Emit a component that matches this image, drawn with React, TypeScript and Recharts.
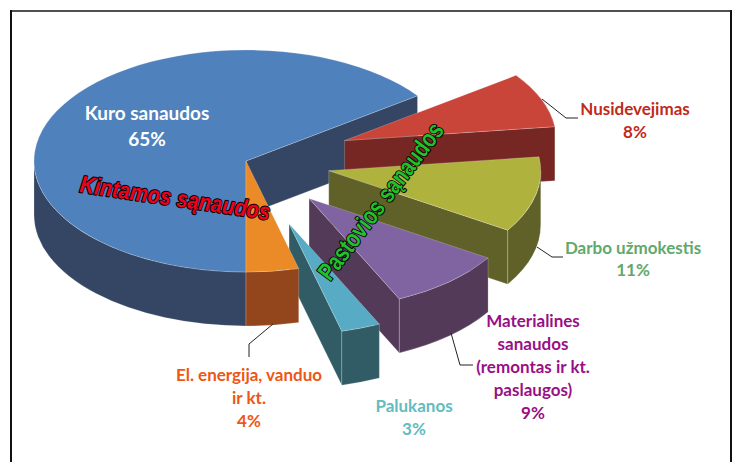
import { Cell, Pie, PieChart } from "recharts";

const names = ["Kuro sanaudos", "Nusidevejimas", "Darbo užmokestis", "Materialines sanaudos", "Palukanos", "El. energija"];
const shares = [65, 8, 11, 9, 3, 4];
const labelLines = [
  ["Kuro sanaudos", "65%"],
  ["Nusidevejimas", "8%"],
  ["Darbo užmokestis", "11%"],
  ["Materialines", "sanaudos", "(remontas ir kt.", "paslaugos)", "9%"],
  ["Palukanos", "3%"],
  ["El. energija, vanduo", "ir kt.", "4%"],
];

const topColors = ["#4f81bd", "#c9453a", "#afb33e", "#8064a2", "#58abc4", "#ea8b28"];
const sideColors = ["#344663", "#772723", "#5f6128", "#533a58", "#315c66", "#93461c"];
const labelColors = ["#ffffff", "#bf2a20", "#62a86b", "#990f86", "#62bcc0", "#ee5614"];
const explode = [0, 0.5, 0.4, 0.45, 0.6, 0];

// label centre x, first line y, line step, font size, leader line
const labelLayout = [
  { x: 147, y: 112, step: 26, size: 19, leader: "" },
  { x: 635, y: 108, step: 23, size: 17, leader: "M542 99L566 118H578" },
  { x: 633, y: 247, step: 22.5, size: 17, leader: "M537 247L552 257H563" },
  { x: 533, y: 320, step: 23, size: 17, leader: "M451 333L460 365H473" },
  { x: 414, y: 405, step: 23, size: 17, leader: "" },
  { x: 249, y: 374, step: 23, size: 17, leader: "M273 324L249 344V357" },
];

const SQUASH = 111 / 212;
const DEPTH = 54;
const rad = (a: number) => (a * Math.PI) / 180;

function Slice3D(props: any) {
  const { cx, cy, outerRadius, startAngle, endAngle, index } = props;
  const low = Math.min(startAngle, endAngle);
  const high = Math.max(startAngle, endAngle);
  const rx = outerRadius;
  const ry = outerRadius * SQUASH;
  const mid = rad((low + high) / 2);
  const ax = cx + explode[index] * rx * Math.cos(mid);
  const ay = cy - explode[index] * ry * Math.sin(mid);
  const pt = (a: number, dy = 0) => [ax + rx * Math.cos(rad(a)), ay - ry * Math.sin(rad(a)) + dy];
  const top = topColors[index];
  const side = sideColors[index];

  const walls: string[] = [];
  // radial cut faces, only the ones turned towards the viewer
  const wall = (a: number) => {
    const [x, y] = pt(a);
    walls.push(`M${ax} ${ay}L${x} ${y}V${y + DEPTH}L${ax} ${ay + DEPTH}Z`);
  };
  if (Math.cos(rad(low)) > 0.001) wall(low);
  if (Math.cos(rad(high)) < -0.001) wall(high);
  // curved outer face, front half of the ellipse only
  for (const base of [-180, 180]) {
    const from = Math.max(low, base);
    const to = Math.min(high, base + 180);
    if (to <= from) continue;
    const [x1, y1] = pt(from);
    const [x2, y2] = pt(to);
    walls.push(
      `M${x1} ${y1}A${rx} ${ry} 0 0 0 ${x2} ${y2}V${y2 + DEPTH}A${rx} ${ry} 0 0 1 ${x1} ${y1 + DEPTH}Z`
    );
  }
  const [sx, sy] = pt(low);
  const [ex, ey] = pt(high);
  const large = high - low > 180 ? 1 : 0;
  const face = `M${ax} ${ay}L${sx} ${sy}A${rx} ${ry} 0 ${large} 0 ${ex} ${ey}Z`;

  return (
    <g>
      {walls.map((d, i) => (
        <path key={i} d={d} fill={side} stroke="#ffffff" strokeOpacity={0.3} strokeWidth={0.7} />
      ))}
      <path d={face} fill={top} stroke="#ffffff" strokeOpacity={0.3} strokeWidth={0.7} />
    </g>
  );
}

// the two word-art captions laid over the pie
function Captions() {
  return (
    <g style={{ paintOrder: "stroke" }}>
      <text
        transform="translate(79 192) rotate(8.4)"
        textLength={192}
        lengthAdjust="spacingAndGlyphs"
        fontFamily="Liberation Sans, Arial, sans-serif"
        fontWeight={700}
        fontStyle="italic"
        fontSize={24}
        fill="#f0001c"
        stroke="#000000"
        strokeWidth={2}
        strokeLinejoin="round"
      >
        Kintamos sąnaudos
      </text>
      <text
        transform="translate(330 282) rotate(-52.8)"
        textLength={190}
        lengthAdjust="spacingAndGlyphs"
        fontFamily="Liberation Sans, Arial, sans-serif"
        fontWeight={700}
        fontSize={25}
        fill="#22c02c"
        stroke="#000000"
        strokeWidth={2}
        strokeLinejoin="round"
      >
        Pastovios sąnaudos
      </text>
    </g>
  );
}

function renderLabel(props: any) {
  const { index } = props;
  const layout = labelLayout[index];
  return (
    <g key={index}>
      {layout.leader && <path d={layout.leader} fill="none" stroke="#222222" strokeWidth={1} />}
      {labelLines[index].map((line, i) => (
        <text
          key={i}
          x={layout.x}
          y={layout.y + i * layout.step}
          textAnchor="middle"
          dominantBaseline="central"
          fontFamily="Lato, sans-serif"
          fontWeight={700}
          fontSize={layout.size}
          fill={labelColors[index]}
        >
          {line}
        </text>
      ))}
      {/* labels sit above the sectors, other chart children end up below them */}
      {index === names.length - 1 && <Captions />}
    </g>
  );
}

const data = names.map((name, i) => ({ name, value: shares[i] }));

export default function App() {
  return (
    <div style={{ position: "absolute", left: 0, top: 0, width: 733, height: 462, background: "#fff", overflow: "hidden" }}>
      <div style={{ position: "absolute", left: 10, top: 10, width: 721, height: 2, background: "#505050" }} />
      <div style={{ position: "absolute", left: 10, top: 10, width: 2, height: 452, background: "#111" }} />
      <div style={{ position: "absolute", left: 730, top: 10, width: 2, height: 452, background: "#111" }} />
      <PieChart width={733} height={462} margin={{ top: 0, right: 0, bottom: 0, left: 0 }} style={{ position: "absolute", left: 0, top: 0 }}>
        <Pie
          data={data}
          dataKey="value"
          nameKey="name"
          cx={246}
          cy={161}
          outerRadius={212}
          startAngle={270}
          endAngle={-90}
          stroke="none"
          shape={Slice3D}
          inactiveShape={Slice3D}
          label={renderLabel}
          labelLine={false}
          isAnimationActive={false}
        >
          {data.map((d, i) => (
            <Cell key={d.name} fill={topColors[i]} />
          ))}
        </Pie>
      </PieChart>
    </div>
  );
}
